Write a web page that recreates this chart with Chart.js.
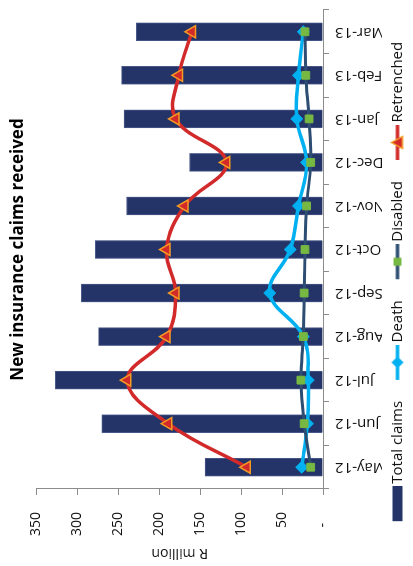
<!DOCTYPE html>
<html>
<head>
<meta charset="utf-8">
<script src="https://cdn.jsdelivr.net/npm/chart.js@4"></script>
<style>
  html, body { margin: 0; padding: 0; background: #fff; overflow: hidden; }
  body { width: 413px; height: 566px; position: relative; }
  /* chart is drawn as a normal column chart, then turned a quarter turn left */
  #wrap {
    position: absolute; left: 0; top: 0;
    width: 566px; height: 413px;
    transform-origin: 0 0;
    transform: translate(0, 566px) rotate(-90deg);
  }
</style>
</head>
<body>
<div id="wrap"><canvas id="claimsChart" width="566" height="413"></canvas></div>
<script>
const categories = ['May-12', 'Jun-12', 'Jul-12', 'Aug-12', 'Sep-12', 'Oct-12', 'Nov-12', 'Dec-12', 'Jan-13', 'Feb-13', 'Mar-13'];
const totalClaims = [144, 270, 327, 274, 295, 278, 240, 163, 243, 246, 228];
const death = [26, 19, 18, 24, 65, 40, 30, 20, 32, 30, 24];
const disabled = [15, 23, 27, 24, 23, 22, 20, 15, 17, 21, 22];
const retrenched = [93, 189, 239, 191, 180, 191, 169, 118, 180, 176, 160];
const valueTicks = [0, 50, 100, 150, 200, 250, 300, 350];

const NAVY = '#243469';
const BLUE = '#00B0F0';
const SLATE = '#2D4E72';
const GREEN = '#77B843';
const RED = '#D22A2A';
const ORANGE = '#F59A23';
const AXIS = '#8C8C8C';
const TEXT = '#111111';

Chart.defaults.font.family = "'Open Sans', sans-serif";

// little legend keys: a line with its marker, or a box for the bars
// (canvas is wider than the legend slot so the key sits close to its text)
function makeIcon(kind, color, marker) {
  const c = document.createElement('canvas');
  c.width = 53;
  c.height = 16;
  const g = c.getContext('2d');
  if (kind === 'bar') {
    g.fillStyle = color;
    g.fillRect(18, 3, 35, 10);
  } else {
    g.strokeStyle = color;
    g.lineWidth = 3.5;
    g.beginPath();
    g.moveTo(18, 8);
    g.lineTo(53, 8);
    g.stroke();
    marker(g, 35.5, 8);
  }
  return c;
}

const diamond = (g, x, y) => {
  g.fillStyle = BLUE;
  g.beginPath();
  g.moveTo(x, y - 6); g.lineTo(x + 6, y); g.lineTo(x, y + 6); g.lineTo(x - 6, y);
  g.closePath();
  g.fill();
};
const square = (g, x, y) => {
  g.fillStyle = GREEN;
  g.fillRect(x - 4, y - 4, 8, 8);
};
const triangle = (g, x, y) => {
  g.fillStyle = RED;
  g.strokeStyle = ORANGE;
  g.lineWidth = 1.5;
  g.beginPath();
  g.moveTo(x, y - 6); g.lineTo(x + 6, y + 5); g.lineTo(x - 6, y + 5);
  g.closePath();
  g.fill();
  g.stroke();
};

const legendItems = [
  { text: 'Total claims', pointStyle: makeIcon('bar', NAVY), datasetIndex: 0 },
  { text: 'Death', pointStyle: makeIcon('line', BLUE, diamond), datasetIndex: 1 },
  { text: 'Disabled', pointStyle: makeIcon('line', SLATE, square), datasetIndex: 2 },
  { text: 'Retrenched', pointStyle: makeIcon('line', RED, triangle), datasetIndex: 3 }
].map(item => Object.assign(item, { hidden: false, lineWidth: 0, fontColor: TEXT }));

const ctx = document.getElementById('claimsChart').getContext('2d');
const claimsChart = new Chart(ctx, {
  type: 'bar',
  data: {
    labels: categories,
    datasets: [
      {
        type: 'bar',
        label: 'Total claims',
        data: totalClaims,
        backgroundColor: NAVY,
        borderColor: '#4A5888',
        borderWidth: 1,
        barThickness: 18,
        order: 4
      },
      {
        type: 'line',
        label: 'Death',
        data: death,
        borderColor: BLUE,
        backgroundColor: BLUE,
        borderWidth: 3.5,
        tension: 0.4,
        pointStyle: 'rectRot',
        pointRadius: 6,
        pointBorderWidth: 1,
        order: 3
      },
      {
        type: 'line',
        label: 'Disabled',
        data: disabled,
        borderColor: SLATE,
        backgroundColor: GREEN,
        pointBorderColor: GREEN,
        borderWidth: 3,
        tension: 0.4,
        pointStyle: 'rect',
        pointRadius: 5.5,
        pointBorderWidth: 1,
        order: 2
      },
      {
        type: 'line',
        label: 'Retrenched',
        data: retrenched,
        borderColor: RED,
        backgroundColor: RED,
        pointBorderColor: ORANGE,
        borderWidth: 3.5,
        tension: 0.4,
        pointStyle: 'triangle',
        pointRadius: 7,
        pointBorderWidth: 1.5,
        order: 1
      }
    ]
  },
  options: {
    responsive: false,
    animation: false,
    devicePixelRatio: 1,
    layout: { padding: { left: 0, right: 10, top: 0, bottom: -2 } },
    scales: {
      x: {
        offset: true,
        grid: { offset: true, drawOnChartArea: false, tickLength: 6, color: AXIS },
        border: { color: AXIS, width: 1 },
        ticks: { minRotation: 90, maxRotation: 90, autoSkip: false, padding: 6, color: TEXT, font: { size: 15 } },
        afterFit: scale => { scale.height = 59; }
      },
      y: {
        min: 0,
        max: 350,
        afterBuildTicks: scale => { scale.ticks = valueTicks.map(v => ({ value: v })); },
        ticks: {
          padding: 17,
          color: TEXT,
          font: { size: 14 },
          callback: v => (v === 0 ? '-   ' : v)
        },
        grid: { drawOnChartArea: false, tickLength: 6, color: AXIS },
        border: { color: AXIS, width: 1 },
        title: { display: true, text: 'R million', color: TEXT, font: { size: 14 }, padding: { top: 5, bottom: 0 } },
        afterFit: scale => { scale.width = 77; }
      }
    },
    plugins: {
      title: {
        display: true,
        text: 'New insurance claims received',
        fullSize: false,
        color: '#000',
        font: { size: 17, weight: 'bold' },
        padding: { top: 8, bottom: 8 }
      },
      legend: {
        position: 'bottom',
        labels: {
          usePointStyle: true,
          pointStyleWidth: 43,
          boxHeight: 15,
          padding: 8,
          color: TEXT,
          font: { size: 15 },
          generateLabels: () => legendItems
        }
      },
      tooltip: { enabled: false }
    }
  }
});
</script>
</body>
</html>
